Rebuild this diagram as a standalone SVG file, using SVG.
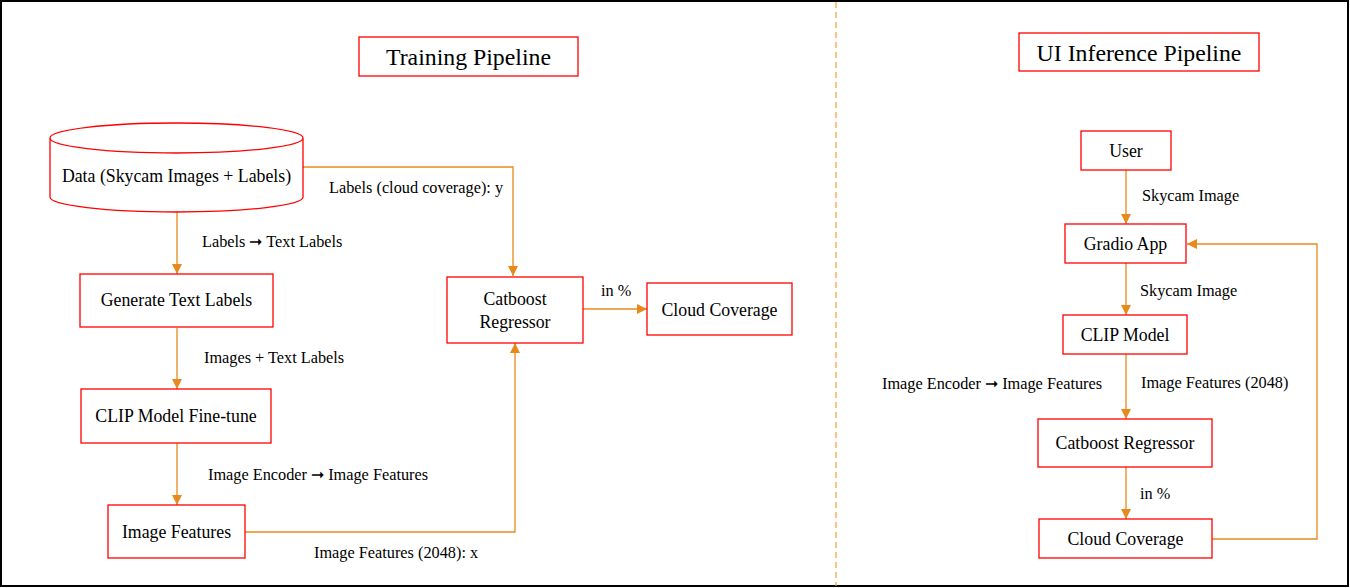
<svg xmlns="http://www.w3.org/2000/svg" width="1350" height="588" viewBox="0 0 1350 588">
<style>
.frame{fill:#fff;stroke:#000;stroke-width:2}
.node{fill:#fff;stroke:#ff0000;stroke-width:1.3}
.edge{fill:none;stroke:#e8891c;stroke-width:1.3}
.div{stroke:#f0a030;stroke-width:1.2;stroke-dasharray:6 4}
.t{font-family:"Liberation Serif","Times New Roman",serif;fill:#000;text-anchor:middle}
.nt{font-size:17.8px}
.lt{font-family:"Liberation Serif","Times New Roman",serif;fill:#000;font-size:16.3px}
.title{font-size:23.8px}
</style>
<defs>
<marker id="ah" viewBox="0 0 10 10" refX="10" refY="5" markerWidth="10" markerHeight="10" markerUnits="userSpaceOnUse" orient="auto">
<path d="M0,0 L10,5 L0,10 z" fill="#e8891c"/>
</marker>
</defs>
<rect class="frame" x="1" y="1" width="1347" height="585"/>
<line class="div" x1="836" y1="2" x2="836" y2="586"/>

<g id="connectors">
<path class="edge" marker-end="url(#ah)" d="M177,212 V274"/>
<path class="edge" marker-end="url(#ah)" d="M303,167 H513 V276"/>
<path class="edge" marker-end="url(#ah)" d="M177,328 V389"/>
<path class="edge" marker-end="url(#ah)" d="M177,443 V505"/>
<path class="edge" marker-end="url(#ah)" d="M245,532 H515 V343"/>
<path class="edge" marker-end="url(#ah)" d="M583,309 H647"/>
<path class="edge" marker-end="url(#ah)" d="M1126,170 V224"/>
<path class="edge" marker-end="url(#ah)" d="M1126,263 V315"/>
<path class="edge" marker-end="url(#ah)" d="M1126,354 V419"/>
<path class="edge" marker-end="url(#ah)" d="M1126,467 V519"/>
<path class="edge" marker-end="url(#ah)" d="M1212,539 H1317 V244 H1187"/>
<text class="lt" x="202" y="247">Labels ➞ Text Labels</text>
<text class="lt" x="329" y="193">Labels (cloud coverage): y</text>
<text class="lt" x="204" y="363">Images + Text Labels</text>
<text class="lt" x="208" y="480">Image Encoder ➞ Image Features</text>
<text class="lt" x="314" y="558">Image Features (2048): x</text>
<text class="lt" x="601" y="296">in %</text>
<text class="lt" x="1142" y="201">Skycam Image</text>
<text class="lt" x="1140" y="296">Skycam Image</text>
<text class="lt" x="882" y="389">Image Encoder ➞ Image Features</text>
<text class="lt" x="1141" y="388">Image Features (2048)</text>
<text class="lt" x="1140" y="499">in %</text>
</g>

<g id="title-training">
<rect class="node" x="359" y="37" width="219" height="39"/>
<text class="t title" x="468.5" y="65">Training Pipeline</text>
</g>
<g id="title-inference">
<rect class="node" x="1019" y="33" width="240" height="38"/>
<text class="t title" x="1139" y="61">UI Inference Pipeline</text>
</g>

<g id="data">
<path class="node" d="M50,138 V197 A126.5,15 0 0 0 303,197 V138 A126.5,15 0 0 0 50,138 A126.5,15 0 0 0 303,138"/>
<text class="t nt" x="176.5" y="182">Data (Skycam Images + Labels)</text>
</g>
<g id="generate-text-labels">
<rect class="node" x="80" y="274" width="193" height="53"/>
<text class="t nt" x="176.5" y="306">Generate Text Labels</text>
</g>
<g id="clip-finetune">
<rect class="node" x="81" y="389" width="190" height="54"/>
<text class="t nt" x="176" y="422">CLIP Model Fine-tune</text>
</g>
<g id="image-features">
<rect class="node" x="108" y="505" width="137" height="53"/>
<text class="t nt" x="176.5" y="538">Image Features</text>
</g>
<g id="catboost-train">
<rect class="node" x="447" y="277" width="136" height="66"/>
<text class="t nt" x="515" y="305">Catboost</text>
<text class="t nt" x="515" y="328">Regressor</text>
</g>
<g id="cloud-coverage-train">
<rect class="node" x="647" y="283" width="145" height="52"/>
<text class="t nt" x="719.5" y="316">Cloud Coverage</text>
</g>

<g id="user">
<rect class="node" x="1081" y="131" width="90" height="39"/>
<text class="t nt" x="1126" y="157">User</text>
</g>
<g id="gradio-app">
<rect class="node" x="1065" y="224" width="121" height="39"/>
<text class="t nt" x="1125.5" y="250">Gradio App</text>
</g>
<g id="clip-model">
<rect class="node" x="1063" y="315" width="124" height="39"/>
<text class="t nt" x="1125" y="341">CLIP Model</text>
</g>
<g id="catboost-ui">
<rect class="node" x="1038" y="419" width="174" height="48"/>
<text class="t nt" x="1125" y="449">Catboost Regressor</text>
</g>
<g id="cloud-coverage-ui">
<rect class="node" x="1039" y="519" width="173" height="39"/>
<text class="t nt" x="1125.5" y="545">Cloud Coverage</text>
</g>
</svg>
